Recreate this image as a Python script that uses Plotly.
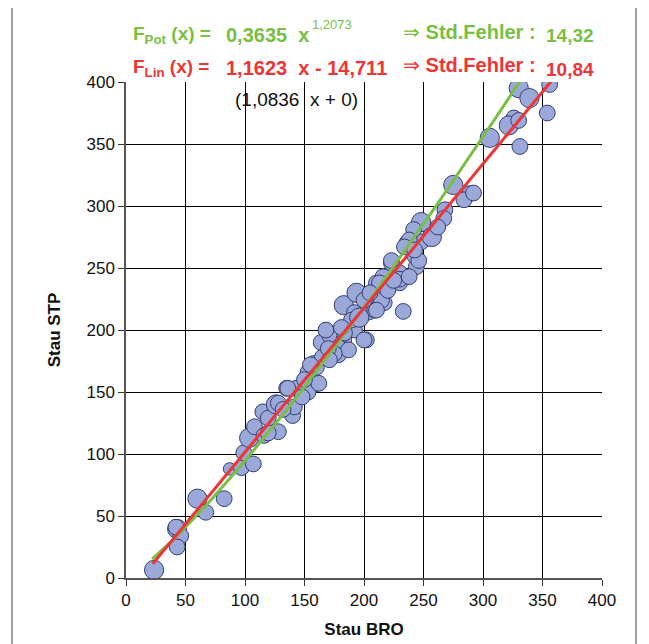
import plotly.graph_objects as go

# ---- data ----
stau_bro = [23.6, 43, 46, 43, 60, 67, 82.5, 87, 97, 99, 107, 103.5, 108, 116, 128, 115, 119.5, 126,
            140, 141.5, 135, 147, 158, 153, 128, 143, 153, 158, 162, 164, 172.6, 168, 183, 183.5,
            178.5, 192, 202, 183, 192, 208, 217, 193.7, 210.5, 230, 223, 244, 242.5, 236, 248,
            233, 204, 200, 183.6, 189.5, 209, 214.7, 200, 178.5, 187, 275, 289, 284, 268, 267,
            248, 241.7, 257, 238, 234, 246, 242.5, 223, 230, 216, 330, 339, 356, 326, 321.7, 330,
            354, 331, 305.7, 292, 230, 238, 213, 210.5, 181, 175, 136, 119.5, 42,
            160, 165, 170, 150, 155, 220, 225, 205, 262, 196, 171, 148, 132]
stau_stp = [6.5, 39.5, 34, 25, 64, 53, 64, 88, 89, 101, 92, 113, 122, 115, 118, 134, 129, 140,
            131, 138, 153, 151, 156, 150, 141, 153, 166, 173, 157, 190, 196, 200, 192, 184,
            180, 200, 192, 220, 214, 220, 222, 230, 238, 238, 254, 251, 260, 270, 271,
            215, 214.5, 192, 197.6, 208, 216, 224, 224, 186, 184, 317, 310, 305, 297, 290,
            287, 281, 275, 272.6, 267, 256, 264.5, 256, 246, 243, 395, 387, 398, 371, 365, 369,
            375, 348, 355, 310.5, 241, 243, 238, 216, 202, 181, 153, 117, 41,
            170, 178, 185, 160, 172, 232, 240, 230, 283, 210, 176, 146, 136]
bubble = [3, 3, 2, 2, 3, 2, 2, 1, 2, 2, 2, 3, 2, 2, 2, 2, 2, 3,
          2, 2, 2, 2, 2, 2, 2, 2, 2, 2, 2, 2, 3, 2, 2, 2,
          2, 2, 2, 3, 2, 2, 2, 3, 2, 2, 2, 2, 2, 2, 2,
          2, 2, 2, 2, 2, 2, 2, 2, 2, 2, 3, 2, 2, 2, 2,
          3, 2, 3, 2, 2, 2, 2, 2, 2, 2, 3, 3, 2, 2, 3, 2,
          2, 2, 3, 2, 2, 2, 2, 2, 2, 2, 2, 2, 2,
          2, 2, 2, 2, 2, 2, 2, 2, 2, 3, 2, 2, 2]

pot_a, pot_b = 0.3635, 1.2073      # F_Pot(x) = a * x^b
lin_m, lin_c = 1.1623, -14.711     # F_Lin(x) = m*x + c
pot_x_range = [22, 331]
lin_x_range = [22.5, 357]
x_ticks = [0, 50, 100, 150, 200, 250, 300, 350, 400]
y_ticks = [0, 50, 100, 150, 200, 250, 300, 350, 400]

GREEN = "#78bf44"
RED = "#ee3535"
BLACK = "#111111"
FONT = "Liberation Sans, Arial, sans-serif"

sizes = [9 + 3.4 * b for b in bubble]

n = 60
pot_x = [pot_x_range[0] + (pot_x_range[1] - pot_x_range[0]) * i / (n - 1) for i in range(n)]
pot_y = [pot_a * x ** pot_b for x in pot_x]
lin_y = [lin_m * x + lin_c for x in lin_x_range]

fig = go.Figure()
fig.add_trace(go.Scatter(
    x=stau_bro, y=stau_stp, mode="markers",
    marker=dict(size=sizes, color="#9aa8da", opacity=1,
                line=dict(color="#34406e", width=1)),
    hoverinfo="x+y", showlegend=False))
fig.add_trace(go.Scatter(x=pot_x, y=pot_y, mode="lines",
                         line=dict(color=GREEN, width=3), showlegend=False))
fig.add_trace(go.Scatter(x=lin_x_range, y=lin_y, mode="lines",
                         line=dict(color=RED, width=3), showlegend=False))

OFF = 8  # page offset of the figure
W, H = 641, 636
L, T = 126 - OFF, 82 - OFF
pw, ph = 476, 496
R, B = W - L - pw, H - T - ph


def px(x):
    return (x - OFF - L) / pw


def py(y):
    return (H - B - (y - OFF)) / ph


anns = [
    ("<b>F<sub>Pot</sub> (x) =</b>", 131, 35, GREEN, 19, "left"),
    ("<b>0,3635  x</b>", 224, 35, GREEN, 20, "left"),
    ("1,2073", 310, 24, GREEN, 13, "left"),
    ("⇒ <b>Std.Fehler :</b>", 401, 32, GREEN, 20, "left"),
    ("<b>14,32</b>", 544, 35, GREEN, 19, "left"),
    ("<b>F<sub>Lin</sub> (x) =</b>", 131, 68, RED, 19, "left"),
    ("<b>1,1623  x - 14,711</b>", 224, 68, RED, 20, "left"),
    ("⇒ <b>Std.Fehler :</b>", 401, 65, RED, 20, "left"),
    ("<b>10,84</b>", 544, 69, RED, 19, "left"),
    ("(1,0836  x + 0)", 296, 100, BLACK, 19, "center"),
]
for text, x, y, color, size, anchor in anns:
    fig.add_annotation(text=text, x=px(x), y=py(y), xref="paper", yref="paper",
                       xanchor=anchor, yanchor="middle", showarrow=False,
                       font=dict(family=FONT, size=size, color=color))

fig.add_shape(type="rect", xref="paper", yref="paper",
              x0=px(12), x1=px(636), y0=py(660), y1=py(4),
              line=dict(color="#808080", width=1.5), layer="below")

axis_common = dict(showgrid=True, gridcolor="#000000", gridwidth=1,
                   showline=True, linecolor="#555555", linewidth=1.5,
                   ticks="outside", ticklen=6, tickcolor="#333333",
                   zeroline=False, tickfont=dict(family=FONT, size=17, color=BLACK))

fig.update_xaxes(range=[0, 400], tickvals=x_ticks, **axis_common,
                 title=dict(text="<b>Stau BRO</b>", font=dict(family=FONT, size=17, color=BLACK),
                            standoff=14))
fig.update_yaxes(range=[0, 400], tickvals=y_ticks, **axis_common,
                 title=dict(text="<b>Stau STP</b>", font=dict(family=FONT, size=17, color=BLACK),
                            standoff=22))

fig.update_layout(width=W, height=H, margin=dict(l=L, r=R, t=T, b=B, autoexpand=False),
                  paper_bgcolor="white", plot_bgcolor="white", showlegend=False)

fig.write_html("out.html")
